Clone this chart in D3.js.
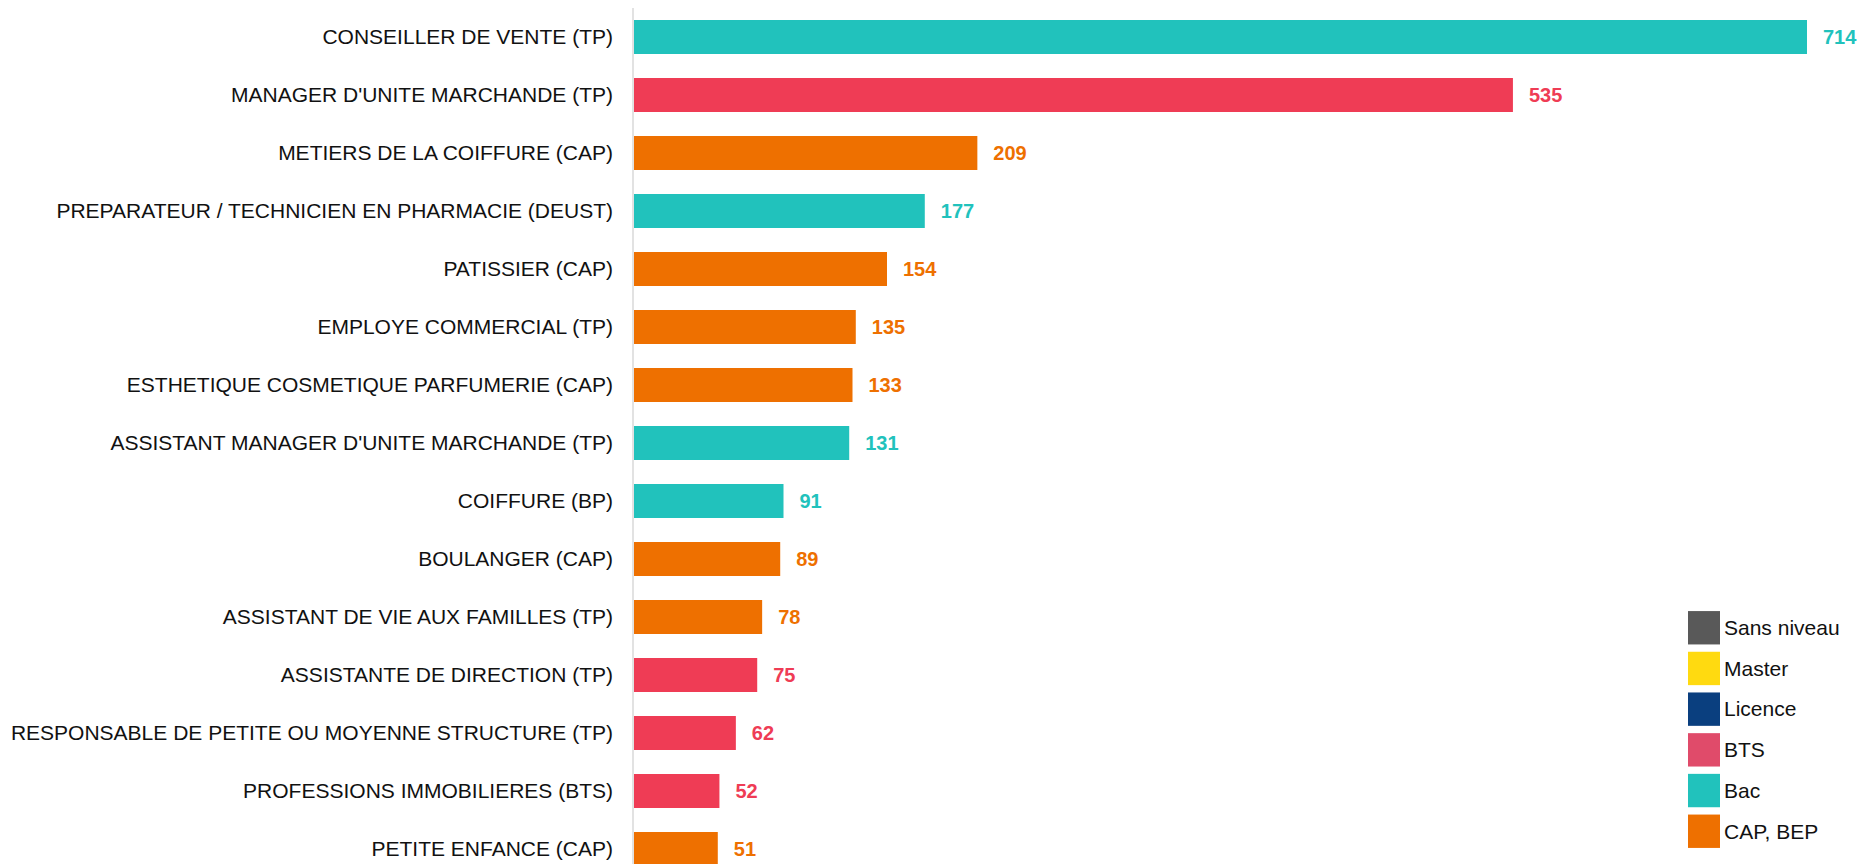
<!DOCTYPE html>
<html>
<head>
<meta charset="utf-8">
<script src="https://cdn.jsdelivr.net/npm/d3@7"></script>
<style>
  body { margin: 0; background: #fff; }
  svg { display: block; }
</style>
</head>
<body>
<svg id="chart" width="1862" height="864"></svg>
<script>
// donnees
const formations = [
    "CONSEILLER DE VENTE (TP)",
    "MANAGER D'UNITE MARCHANDE (TP)",
    "METIERS DE LA COIFFURE (CAP)",
    "PREPARATEUR / TECHNICIEN EN PHARMACIE (DEUST)",
    "PATISSIER (CAP)",
    "EMPLOYE COMMERCIAL (TP)",
    "ESTHETIQUE COSMETIQUE PARFUMERIE (CAP)",
    "ASSISTANT MANAGER D'UNITE MARCHANDE (TP)",
    "COIFFURE (BP)",
    "BOULANGER (CAP)",
    "ASSISTANT DE VIE AUX FAMILLES (TP)",
    "ASSISTANTE DE DIRECTION (TP)",
    "RESPONSABLE DE PETITE OU MOYENNE STRUCTURE (TP)",
    "PROFESSIONS IMMOBILIERES (BTS)",
    "PETITE ENFANCE (CAP)"
]
const effectifs = [714, 535, 209, 177, 154, 135, 133, 131, 91, 89, 78, 75, 62, 52, 51]
const niveaux = ["Bac", "BTS", "CAP, BEP", "Bac", "CAP, BEP", "CAP, BEP", "CAP, BEP", "Bac",
    "Bac", "CAP, BEP", "CAP, BEP", "BTS", "BTS", "BTS", "CAP, BEP"]
const legendeNiveaux = ["Sans niveau", "Master", "Licence", "BTS", "Bac", "CAP, BEP"]

let svg = d3.select("#chart")
let axis_x = 634

let barColor = d3.scaleOrdinal()
    .domain(legendeNiveaux)
    .range(["#595959", "#ffda10", "#0a3f7f", "#ef3c55", "#21c2bc", "#ee7000"])
let legendColor = d3.scaleOrdinal()
    .domain(legendeNiveaux)
    .range(["#595959", "#ffda10", "#0a3f7f", "#e04b6a", "#21c2bc", "#ee7000"])

let x = d3.scaleLinear()
    .domain([0, 714])
    .range([axis_x, 1807])

let y = d3.scaleBand()
    .domain(formations)
    .range([8, 878])
    .paddingInner(0.414)
    .paddingOuter(0.207)

let rows = formations.map((f, i) => ({ f: f, v: effectifs[i], n: niveaux[i] }))

// barres
svg.selectAll(".bar")
    .data(rows)
    .enter()
    .append("rect")
    .attr("class", "bar")
    .attr("x", x(0))
    .attr("y", d => y(d.f))
    .attr("width", d => x(d.v) - x(0))
    .attr("height", y.bandwidth())
    .style("fill", d => barColor(d.n))

// axe vertical
svg.append("line")
    .attr("x1", axis_x - 1)
    .attr("x2", axis_x - 1)
    .attr("y1", 8)
    .attr("y2", 864)
    .style("stroke", "#d9d9d9")
    .style("stroke-width", 1.5)

// libelles
svg.selectAll(".cat")
    .data(rows)
    .enter()
    .append("text")
    .attr("class", "cat")
    .text(d => d.f)
    .attr("x", axis_x - 21)
    .attr("y", d => y(d.f) + y.bandwidth() / 2)
    .attr("dy", ".35em")
    .attr("text-anchor", "end")
    .style("fill", "#111")
    .style("font-size", "21px")
    .style("font-family", "Arial, 'Liberation Sans', sans-serif")

// valeurs
svg.selectAll(".val")
    .data(rows)
    .enter()
    .append("text")
    .attr("class", "val")
    .text(d => d.v)
    .attr("x", d => x(d.v) + 16)
    .attr("y", d => y(d.f) + y.bandwidth() / 2)
    .attr("dy", ".35em")
    .attr("text-anchor", "start")
    .style("fill", d => barColor(d.n))
    .style("font-size", "20px")
    .style("font-weight", "bold")
    .style("font-family", "Arial, 'Liberation Sans', sans-serif")

// legende
let ly = d3.scaleBand()
    .domain(legendeNiveaux)
    .range([607, 852])
    .paddingInner(0.18)
    .paddingOuter(0.1)

let leg = svg.selectAll(".leg")
    .data(legendeNiveaux)
    .enter()
    .append("g")
    .attr("class", "leg")
    .attr("transform", d => "translate(1688," + ly(d) + ")")

leg.append("rect")
    .attr("width", 32)
    .attr("height", ly.bandwidth())
    .style("fill", d => legendColor(d))

leg.append("text")
    .text(d => d)
    .attr("x", 36)
    .attr("y", ly.bandwidth() / 2)
    .attr("dy", ".35em")
    .style("fill", "#111")
    .style("font-size", "21px")
    .style("font-family", "Arial, 'Liberation Sans', sans-serif")
</script>
</body>
</html>
